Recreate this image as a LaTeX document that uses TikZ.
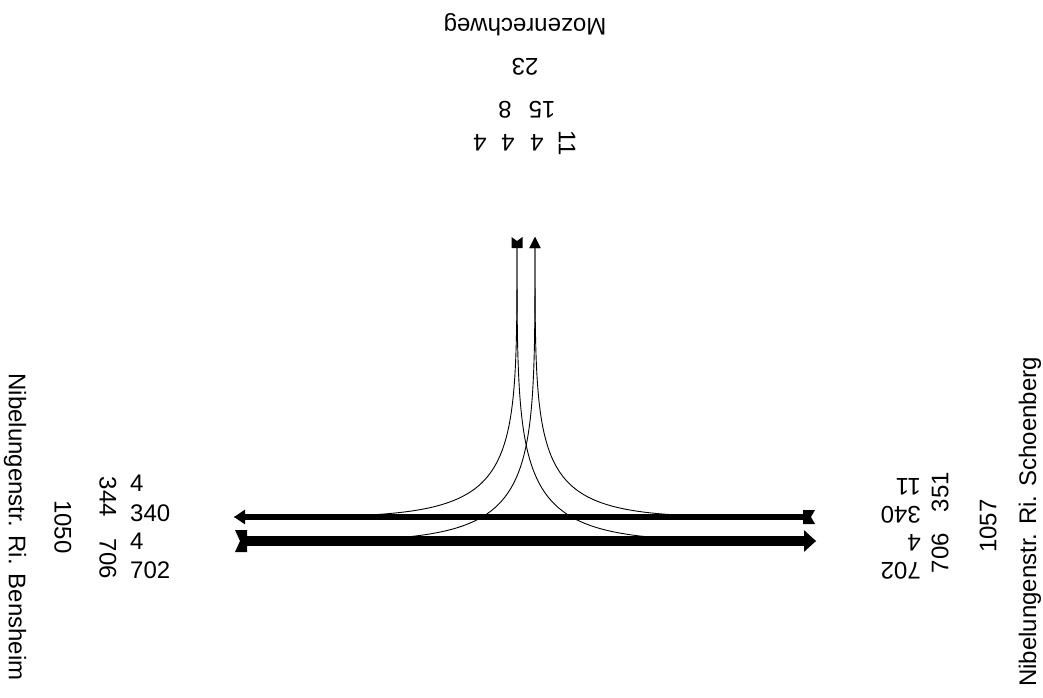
\documentclass[tikz,border=0pt]{standalone}
\usepackage{fontspec}
\setmainfont{Liberation Sans}
\usetikzlibrary{arrows.meta,calc}
\begin{document}
\begin{tikzpicture}[x=1pt,y=-1pt,
  lbl/.style={font=\fontsize{24}{24}\selectfont, inner sep=0pt},
  turn/.style={line width=0.9pt},
  thinflow/.style={line width=6.5pt},
  thickflow/.style={line width=9.5pt},
  tipsmall/.style={-{Triangle[length=11pt,width=11pt]}},
  tipmid/.style={-{Triangle[length=11pt,width=14pt]}},
  tipbig/.style={-{Triangle[length=12pt,width=21pt]}}]
\useasboundingbox (0,0) rectangle (1043,698);
% arm end points
\coordinate (Ms) at (517,237);
\coordinate (Me) at (535,237);
\coordinate (Bs) at (235,541);
\coordinate (Be) at (234,517);
\coordinate (Ss) at (815,517);
\coordinate (Se) at (816,541);
% turning movements
\draw[turn, shorten <=8pt] (Ms) .. controls (Ms |- Be) .. (Be);
\draw[turn, shorten <=8pt] (Ms) .. controls (Ms |- Se) .. (Se);
\draw[turn, tipsmall, shorten <=8pt] (Bs) .. controls (Me |- Bs) .. (Me);
\draw[turn, tipsmall, shorten <=8pt] (Ss) .. controls (Me |- Ss) .. (Me);
% through movements
\draw[thinflow, tipmid, shorten <=6pt] (Ss) -- (Be);
\draw[thickflow, tipbig, shorten <=6pt] (Bs) -- (Se);
% start markers (notched)
\fill ($(Ss)+(0,-7)$) -- ($(Ss)+(-12,-7)$) -- ($(Ss)+(-12,7)$) -- ($(Ss)+(0,7)$) -- ($(Ss)+(-4,0)$) -- cycle;
\fill ($(Bs)+(0,-11)$) -- ($(Bs)+(12,-11)$) -- ($(Bs)+(12,11)$) -- ($(Bs)+(0,11)$) -- ($(Bs)+(5,0)$) -- cycle;
\fill ($(Ms)+(-5.5,0)$) -- ($(Ms)+(-5.5,11)$) -- ($(Ms)+(5.5,11)$) -- ($(Ms)+(5.5,0)$) -- ($(Ms)+(0,4)$) -- cycle;
% top arm labels
\node[lbl, rotate=180] (moz) at (525,25) {Mozenrechweg};
\node[lbl, rotate=180] (mozsum) at (525,67) {23};
\node[lbl, rotate=180] (mozin) at (542,110) {15};
\node[lbl, rotate=180] (mozout) at (505,110) {8};
\node[lbl, rotate=180] (m1) at (480,143) {4};
\node[lbl, rotate=180] (m2) at (508,143) {4};
\node[lbl, rotate=180] (m3) at (537,143) {4};
\node[lbl, rotate=-90] (m4) at (567,143) {11};
% left arm labels
\node[lbl, rotate=-90] (bname) at (15,527) {Nibelungenstr. Ri. Bensheim};
\node[lbl, rotate=-90] (bsum) at (63,527) {1050};
\node[lbl, rotate=-90] (bin) at (108,497) {344};
\node[lbl, rotate=-90] (bout) at (108,559) {706};
\node[lbl, anchor=west] (b1) at (130,483) {4};
\node[lbl, anchor=west] (b2) at (130,513) {340};
\node[lbl, anchor=west] (b3) at (130,541) {4};
\node[lbl, anchor=west] (b4) at (130,570) {702};
% right arm labels
\node[lbl, rotate=90] (sname) at (1030,522) {Nibelungenstr. Ri. Schoenberg};
\node[lbl, rotate=90] (ssum) at (988,526) {1057};
\node[lbl, rotate=90] (sout) at (940,492) {351};
\node[lbl, rotate=90] (sin) at (940,553) {706};
\node[lbl, rotate=180, anchor=west] (s1) at (921,487) {11};
\node[lbl, rotate=180, anchor=west] (s2) at (921,515) {340};
\node[lbl, rotate=180, anchor=west] (s3) at (921,543) {4};
\node[lbl, rotate=180, anchor=west] (s4) at (921,571) {702};
\end{tikzpicture}
\end{document}
